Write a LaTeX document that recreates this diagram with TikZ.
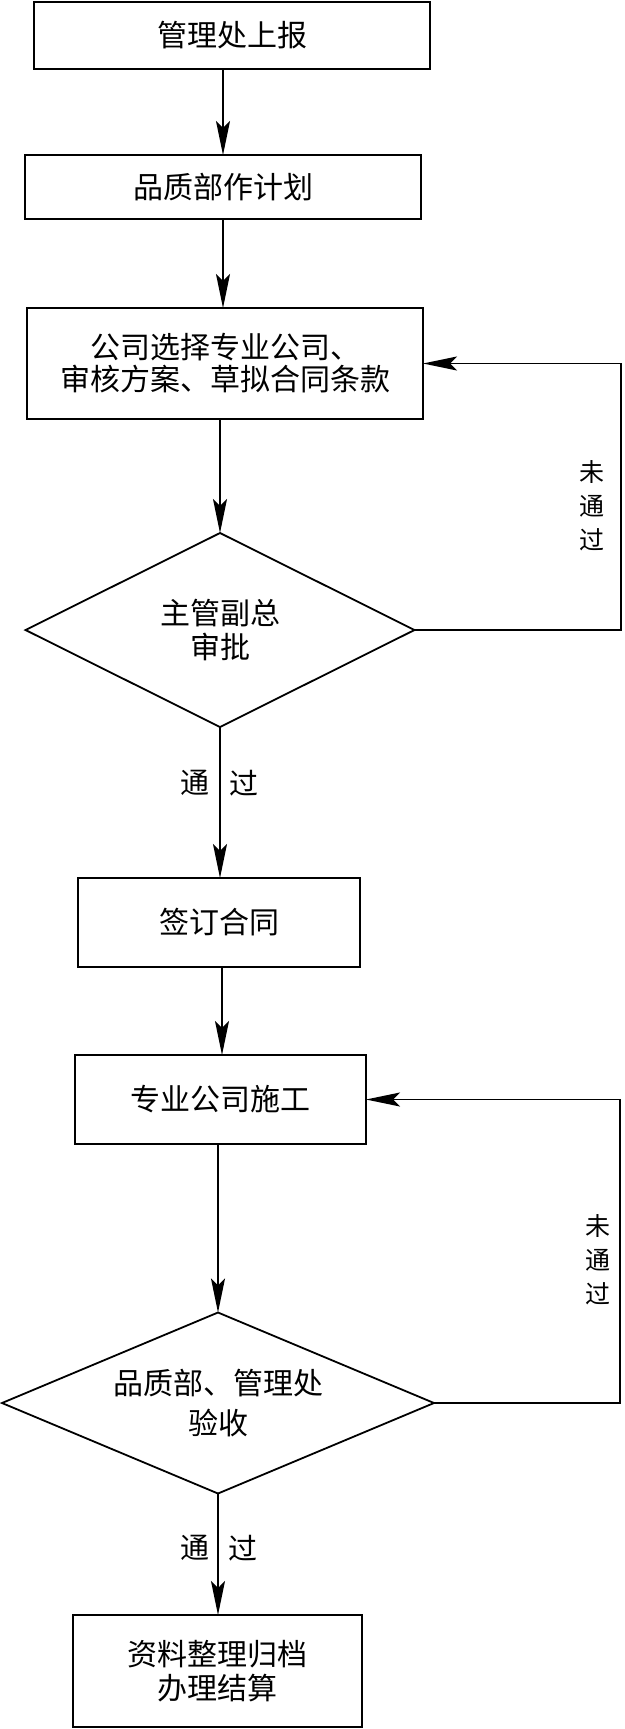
\documentclass[tikz,border=0pt]{standalone}
\usepackage{fontspec}
\newfontfamily\cjk{Noto Sans CJK SC}
\usetikzlibrary{shapes.geometric,arrows.meta}
\begin{document}
\begin{tikzpicture}[x=1pt,y=-1pt,
  box/.style={draw, line width=1.8pt, rectangle, inner sep=0pt, outer sep=0pt, align=center, font=\cjk\fontsize{30}{34}\selectfont},
  dia/.style={draw, diamond, line width=1.8pt, inner sep=0pt, outer sep=0pt, align=center, font=\cjk\fontsize{30}{34}\selectfont},
  conn/.style={line width=1.8pt},
  arr/.style={line width=1.8pt, -{Stealth[length=34pt,width=14pt,inset=7pt]}},
  lbl/.style={inner sep=0pt, font=\cjk\fontsize{29}{34}\selectfont},
  vlbl/.style={inner sep=0pt, align=center, font=\cjk\fontsize{25}{34}\selectfont}]
\useasboundingbox (0,0) rectangle (624,1729);
\fill[white] (0,0) rectangle (624,1729);

\node[box, minimum width=396pt, minimum height=67pt] (b1) at (232,35.5) {管理处上报};
\node[box, minimum width=396pt, minimum height=64pt] (b2) at (223,187) {品质部作计划};
\node[box, minimum width=396pt, minimum height=111pt, font=\cjk\fontsize{30}{32}\selectfont] (b3) at (225,363.5) {公司选择专业公司、\\审核方案、草拟合同条款};
\node[dia, aspect=2.0, minimum width=389pt, minimum height=194pt] (d1) at (220,630) {主管副总\\审批};
\node[box, minimum width=282pt, minimum height=89pt] (b4) at (219,922.5) {签订合同};
\node[box, minimum width=291pt, minimum height=89pt] (b5) at (220.5,1099.5) {专业公司施工};
\node[dia, aspect=2.39, minimum width=432pt, minimum height=181pt, font=\cjk\fontsize{30}{40}\selectfont] (d2) at (218,1403) {品质部、管理处\\验收};
\node[box, minimum width=289pt, minimum height=112pt] (b6) at (217.5,1671) {资料整理归档\\办理结算};

\coordinate (r1) at (621,630);
\coordinate (r2) at (620,1403);

\draw[arr] (b2.north |- b1.south) -- (b2.north);
\draw[arr] (b2.south) -- (b2.south |- b3.north);
\draw[arr] (d1.north |- b3.south) -- (d1.north);
\draw[arr] (d1.south) -- (d1.south |- b4.north);
\draw[arr] ([xshift=3pt]b4.south) -- ([xshift=3pt]b4.south |- b5.north);
\draw[arr] (d2.north |- b5.south) -- (d2.north);
\draw[arr] (d2.south) -- (d2.south |- b6.north);
\draw[arr] (d1.east) -- (r1) |- (b3.east);
\draw[arr] (d2.east) -- (r2) |- (b5.east);

\node[vlbl] (n1) at (592,506) {未\\通\\过};
\node[vlbl] (n2) at (598,1260) {未\\通\\过};
\node[lbl] (p1a) at (195,783) {通};
\node[lbl] (p1b) at (244,783) {过};
\node[lbl] (p2a) at (195,1548) {通};
\node[lbl] (p2b) at (243,1548) {过};
\end{tikzpicture}
\end{document}
